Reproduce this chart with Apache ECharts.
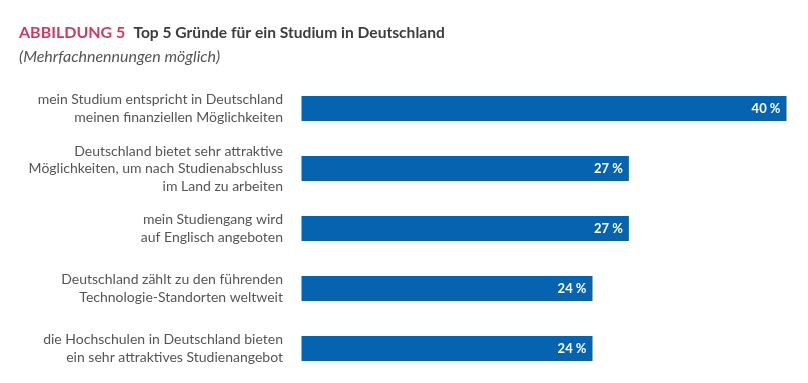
<!DOCTYPE html>
<html><head><meta charset="utf-8">
<script src="https://cdn.jsdelivr.net/npm/echarts@6/dist/echarts.min.js"></script>
<style>html,body{margin:0;padding:0;background:#fff}#c{width:808px;height:383px}</style>
</head><body><div id="c"></div>
<script>
const categories = [
  "mein Studium entspricht in Deutschland\nmeinen finanziellen Möglichkeiten",
  "Deutschland bietet sehr attraktive\nMöglichkeiten, um nach Studienabschluss\nim Land zu arbeiten",
  "mein Studiengang wird\nauf Englisch angeboten",
  "Deutschland zählt zu den führenden\nTechnologie-Standorten weltweit",
  "die Hochschulen in Deutschland bieten\nein sehr attraktives Studienangebot"
];
const values = [40, 27, 27, 24, 24];
const figureLabel = "ABBILDUNG 5";
const titleText = "Top 5 Gründe für ein Studium in Deutschland";
const subtitleText = "(Mehrfachnennungen möglich)";

const FONT = "Lato";
const chart = echarts.init(document.getElementById('c'), null, {renderer: 'canvas'});
chart.setOption({
  animation: false,
  backgroundColor: '#ffffff',
  title: [{
    left: 14, top: 19,
    text: '{a|' + figureLabel + '} {b|' + titleText + '}',
    textStyle: {
      rich: {
        a: {fontFamily: FONT, fontWeight: 'bold', fontSize: 16, color: '#d2395f'},
        b: {fontFamily: FONT, fontWeight: 'bold', fontSize: 15.6, color: '#3d3d3d', padding: [0, 0, 0, 3]}
      }
    }
  }, {
    left: 14, top: 44,
    text: subtitleText,
    textStyle: {fontFamily: FONT, fontStyle: 'italic', fontWeight: 'normal', fontSize: 16, color: '#555555'}
  }],
  grid: {left: 301.5, right: 21.5, top: 78.5, height: 300, containLabel: false},
  xAxis: {type: 'value', min: 0, max: 40, show: false},
  yAxis: {
    type: 'category', data: categories, inverse: true,
    axisLine: {show: false}, axisTick: {show: false}, splitLine: {show: false},
    axisLabel: {
      margin: 18.5, align: 'right', fontFamily: FONT, fontSize: 14, lineHeight: 17.5, color: '#555555'
    }
  },
  series: [{
    type: 'bar', data: values, barWidth: 25,
    itemStyle: {color: '#0663b0'},
    label: {
      show: true, position: 'insideRight', distance: 6,
      formatter: p => p.value + ' %',
      fontFamily: FONT, fontWeight: 'bold', fontSize: 13, color: '#ffffff'
    }
  }]
});
</script></body></html>
